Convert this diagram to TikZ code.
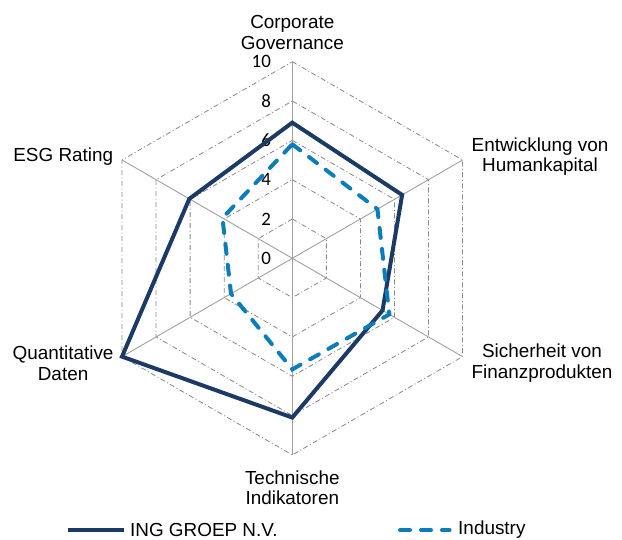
\documentclass[tikz,border=0pt]{standalone}
\usepackage{fontspec}
\setmainfont{Liberation Sans}
\newfontfamily\numfont{Carlito}
\definecolor{ingblue}{HTML}{1B3A66}
\definecolor{indblue}{HTML}{0B7DBB}
\definecolor{gridgray}{HTML}{A0A0A0}
\begin{document}
\begin{tikzpicture}[
    x=19.66pt, y=19.66pt,
    every node/.style={font=\fontsize{18.9}{20.6}\selectfont},
    axislabel/.style={align=center, inner sep=0pt},
    ticklabel/.style={font=\numfont\fontsize{18.9}{20.6}\selectfont, anchor=east, inner sep=0pt},
    spoke/.style={draw=gridgray, line width=0.9pt},
    ring/.style={draw=gridgray!85!black, line width=0.8pt, dash pattern=on 5pt off 2.5pt on 1pt off 2.5pt},
    ingline/.style={draw=ingblue, line width=4pt, line join=miter},
    indline/.style={draw=indblue, line width=4pt, line cap=round, dash pattern=on 10pt off 11pt},
    legendtext/.style={anchor=west, inner sep=0pt}
]
\useasboundingbox (-14.868,-14.278) rectangle (16.770,13.139);

% Grid rings (0..10 in steps of 2)
\draw[ring] (90:2) -- (30:2) -- (-30:2) -- (-90:2) -- (-150:2) -- (150:2) -- cycle;
\draw[ring] (90:4) -- (30:4) -- (-30:4) -- (-90:4) -- (-150:4) -- (150:4) -- cycle;
\draw[ring] (90:6) -- (30:6) -- (-30:6) -- (-90:6) -- (-150:6) -- (150:6) -- cycle;
\draw[ring] (90:8) -- (30:8) -- (-30:8) -- (-90:8) -- (-150:8) -- (150:8) -- cycle;
\draw[ring] (90:10) -- (30:10) -- (-30:10) -- (-90:10) -- (-150:10) -- (150:10) -- cycle;

% Spokes
\coordinate (c) at (0,0);
\coordinate (axGov) at (90:10);
\coordinate (axHum) at (30:10);
\coordinate (axFin) at (-30:10);
\coordinate (axTech) at (-90:10);
\coordinate (axQuant) at (-150:10);
\coordinate (axESG) at (150:10);
\draw[spoke] (c) -- (axGov);
\draw[spoke] (c) -- (axHum);
\draw[spoke] (c) -- (axFin);
\draw[spoke] (c) -- (axTech);
\draw[spoke] (c) -- (axQuant);
\draw[spoke] (c) -- (axESG);

% Scale labels
\node[ticklabel] (t0) at (-1.08, 0) {0};
\node[ticklabel] (t2) at (-1.08, 2) {2};
\node[ticklabel] (t4) at (-1.08, 4) {4};
\node[ticklabel] (t6) at (-1.08, 6) {6};
\node[ticklabel] (t8) at (-1.08, 8) {8};
\node[ticklabel] (t10) at (-1.08, 10) {10};

% Category labels
\node[axislabel] (gov) at (0, 11.5) {Corporate\\Governance};
\node[axislabel] (hum) at (12.6, 5.18) {Entwicklung von\\Humankapital};
\node[axislabel] (fin) at (12.7, -5.33) {Sicherheit von\\Finanzprodukten};
\node[axislabel] (tech) at (0, -11.68) {Technische\\Indikatoren};
\node[axislabel] (quant) at (-11.66, -5.33) {Quantitative\\Daten};
\node[axislabel] (esg) at (-11.65, 5.17) {ESG Rating};

% Series: ING GROEP N.V.
\coordinate (ingGov) at (90:6.9);
\coordinate (ingHum) at (30:6.45);
\coordinate (ingFin) at (-30:5.3);
\coordinate (ingTech) at (-90:8.1);
\coordinate (ingQuant) at (-150:10);
\coordinate (ingESG) at (150:6.05);
\draw[ingline] (ingGov) -- (ingHum) -- (ingFin) -- (ingTech) -- (ingQuant) -- (ingESG) -- cycle;

% Series: Industry
\coordinate (indGov) at (90:5.8);
\coordinate (indHum) at (30:5.0);
\coordinate (indFin) at (-30:5.7);
\coordinate (indTech) at (-90:5.65);
\coordinate (indQuant) at (-150:3.6);
\coordinate (indESG) at (150:4.1);
\draw[indline] (indGov) -- (indHum) -- (indFin) -- (indTech) -- (indQuant) -- (indESG) -- cycle;

% Legend
\coordinate (legINGa) at (-11.41, -13.82);
\coordinate (legINGb) at (-8.56, -13.82);
\draw[ingline] (legINGa) -- (legINGb);
\node[legendtext] (legING) at (-8.26, -13.82) {ING GROEP N.V.};
\coordinate (legINDa) at (5.48, -13.82);
\coordinate (legINDb) at (8.0, -13.82);
\draw[indline] (legINDa) -- (legINDb);
\node[legendtext] (legIND) at (8.43, -13.82) {Industry};

\end{tikzpicture}
\end{document}
